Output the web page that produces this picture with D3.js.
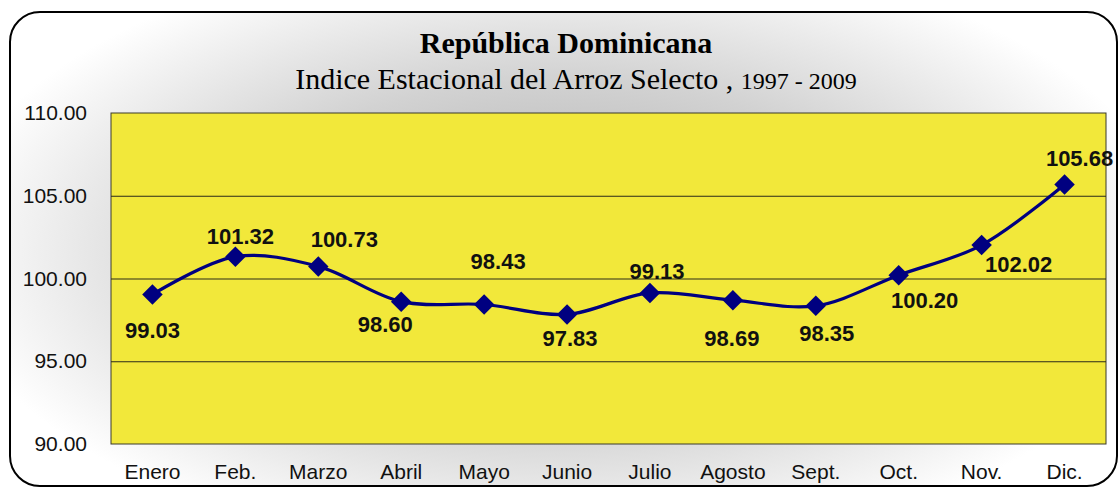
<!DOCTYPE html>
<html><head><meta charset="utf-8">
<script src="https://cdn.jsdelivr.net/npm/d3@7/dist/d3.min.js"></script>
<style>html,body{margin:0;padding:0;background:#fff;}svg{display:block;}</style>
</head><body><svg id="c" width="1119" height="488"></svg>
<script>
const months = ["Enero","Feb.","Marzo","Abril","Mayo","Junio","Julio","Agosto","Sept.","Oct.","Nov.","Dic."];
const values = [99.03,101.32,100.73,98.60,98.43,97.83,99.13,98.69,98.35,100.20,102.02,105.68];
const yTicks = [90,95,100,105,110];
const titleText = "República Dominicana";
const subtitleText = "Indice Estacional del Arroz Selecto ,";
const subtitleYears = "1997 - 2009";

// label placement (layout only): offset from point in px
const labelOffsets = [[0,36],[5,-20],[26,-27],[-16,23],[14,-43],[3,24],[7,-22],[-1,38],[11,27],[26,25],[37,19],[15,-26]];

const svg = d3.select("#c");
const defs = svg.append("defs");
const rg = defs.append("radialGradient").attr("id","bg")
  .attr("gradientUnits","userSpaceOnUse").attr("cx",560).attr("cy",250).attr("r",620)
  .attr("gradientTransform","translate(560,250) scale(1,0.5) translate(-560,-250)");
rg.append("stop").attr("offset","0").attr("stop-color","#a8a8a8");
rg.append("stop").attr("offset","0.55").attr("stop-color","#d2d2d2");
rg.append("stop").attr("offset","1").attr("stop-color","#ffffff");

svg.append("rect").attr("x",10).attr("y",12).attr("width",1107).attr("height",474)
  .attr("rx",30).attr("ry",30).attr("fill","url(#bg)").attr("stroke","#000").attr("stroke-width",2);

const m = {left:111, right:1106, top:113, bottom:444};
const x = d3.scaleBand().domain(months).range([m.left,m.right]).padding(0);
const y = d3.scaleLinear().domain([90,110]).range([m.bottom,m.top]);

svg.append("rect").attr("x",m.left).attr("y",m.top).attr("width",m.right-m.left).attr("height",m.bottom-m.top)
  .attr("fill","#f2e83a").attr("stroke","#3a3a2a").attr("stroke-width",1);

// gridlines
svg.append("g").selectAll("line").data(yTicks.filter(t=>t>90&&t<110)).join("line")
  .attr("x1",m.left).attr("x2",m.right).attr("y1",d=>y(d)+0.5).attr("y2",d=>y(d)+0.5)
  .attr("stroke","#2a2a1a").attr("stroke-width",1);

const sans = "'Liberation Sans', Arial, sans-serif";
const serif = "'Liberation Serif', 'Times New Roman', serif";

// y axis labels
const yAxis = svg.append("g").attr("transform",`translate(${m.left},0)`)
  .call(d3.axisLeft(y).tickValues(yTicks).tickFormat(d3.format(".2f")).tickSize(0).tickPadding(24));
yAxis.select(".domain").remove();
yAxis.selectAll("text").attr("font-family",sans).attr("font-size",21).attr("fill","#111").attr("dy","0.32em");

// x axis labels
const xAxis = svg.append("g").attr("transform",`translate(0,${m.bottom})`)
  .call(d3.axisBottom(x).tickSize(0).tickPadding(22));
xAxis.select(".domain").remove();
xAxis.selectAll("text").attr("font-family",sans).attr("font-size",21).attr("fill","#111").attr("dy","0.6em");

// line
const pts = months.map((mo,i)=>[x(mo)+x.bandwidth()/2, y(values[i])]);
svg.append("path").attr("d", d3.line().curve(d3.curveCatmullRom.alpha(0.5))(pts))
  .attr("fill","none").attr("stroke","#000080").attr("stroke-width",3.2);

// markers
svg.append("g").selectAll("path").data(pts).join("path")
  .attr("d", d3.symbol().type(d3.symbolSquare).size(210))
  .attr("transform", d=>`translate(${d[0]},${d[1]}) rotate(45)`)
  .attr("fill","#000080");

// labels
svg.append("g").selectAll("text").data(values).join("text")
  .attr("x",(d,i)=>pts[i][0]+labelOffsets[i][0])
  .attr("y",(d,i)=>pts[i][1]+labelOffsets[i][1])
  .attr("dy","0.35em").attr("text-anchor","middle")
  .attr("font-family",sans).attr("font-weight","bold").attr("font-size",22)
  .attr("fill","#111").text(d=>d3.format(".2f")(d));

// titles
svg.append("text").attr("x",566).attr("y",53).attr("text-anchor","middle")
  .attr("font-family",serif).attr("font-weight","bold").attr("font-size",30)
  .attr("fill","#000").text(titleText);
const st = svg.append("text").attr("x",576).attr("y",89).attr("text-anchor","middle")
  .attr("font-family",serif).attr("font-size",30).attr("fill","#000");
st.append("tspan").text(subtitleText + " ");
st.append("tspan").attr("font-size",24).text(subtitleYears);
</script></body></html>
